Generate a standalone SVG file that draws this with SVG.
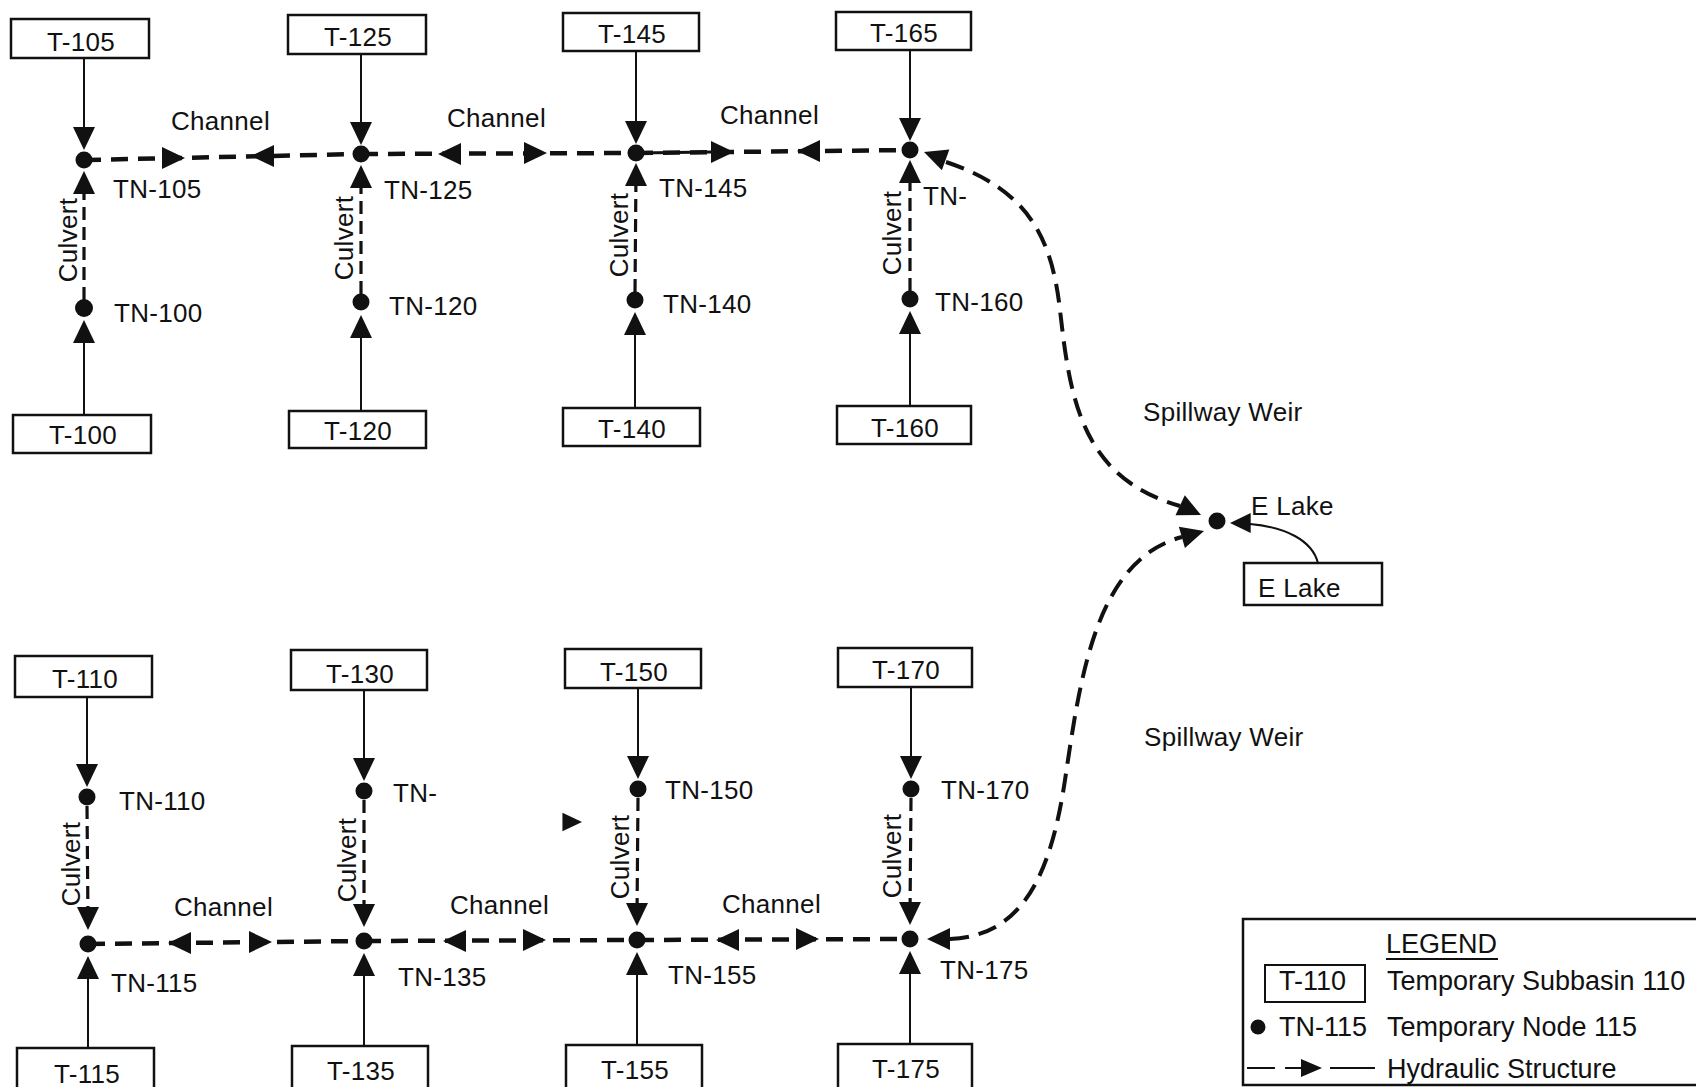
<svg xmlns="http://www.w3.org/2000/svg" xmlns:xlink="http://www.w3.org/1999/xlink" width="1696" height="1087" viewBox="0 0 1696 1087">
<style>
.box{fill:#fff;stroke:#111;stroke-width:2.5}
.t{font-family:"Liberation Sans",Arial,Helvetica,sans-serif;font-size:26px;fill:#111;letter-spacing:0.3px}
.m{text-anchor:middle}
.lg{font-size:27px;letter-spacing:0}
.solid{stroke:#111;stroke-width:2;fill:none}
.dash{stroke:#111;stroke-width:4.5;stroke-dasharray:17 10;fill:none}
.weir{stroke:#111;stroke-width:4;stroke-dasharray:19 10;fill:none}
.cul{stroke:#111;stroke-width:3.2;stroke-dasharray:13 7;fill:none}
.dot{fill:#111}
.ah{fill:#111}
</style>
<defs>
<path id="arr" d="M0,0 L-23,-11 L-23,11 Z"/>
</defs>
<rect width="1696" height="1087" fill="#fff"/>

<g id="connectors">
<line class="solid" x1="84" y1="58" x2="84" y2="140"/>
<use href="#arr" class="ah" transform="translate(84,150) rotate(90)"/>
<line class="cul" x1="84" y1="300" x2="84" y2="180"/>
<use href="#arr" class="ah" transform="translate(84,171) rotate(-90)"/>
<line class="solid" x1="84" y1="415" x2="84" y2="330"/>
<use href="#arr" class="ah" transform="translate(84,320) rotate(-90)"/>
<line class="solid" x1="361" y1="53" x2="361" y2="135"/>
<use href="#arr" class="ah" transform="translate(361,145) rotate(90)"/>
<line class="cul" x1="361" y1="294" x2="361" y2="175"/>
<use href="#arr" class="ah" transform="translate(361,165) rotate(-90)"/>
<line class="solid" x1="361" y1="411" x2="361" y2="325"/>
<use href="#arr" class="ah" transform="translate(361,315) rotate(-90)"/>
<line class="solid" x1="636" y1="51" x2="636" y2="134"/>
<use href="#arr" class="ah" transform="translate(636,144) rotate(90)"/>
<line class="cul" x1="635" y1="292" x2="636" y2="172"/>
<use href="#arr" class="ah" transform="translate(636,163) rotate(-90)"/>
<line class="solid" x1="635" y1="408" x2="635" y2="322"/>
<use href="#arr" class="ah" transform="translate(635,312) rotate(-90)"/>
<line class="solid" x1="910" y1="50" x2="910" y2="131"/>
<use href="#arr" class="ah" transform="translate(910,141) rotate(90)"/>
<line class="cul" x1="910" y1="291" x2="910" y2="170"/>
<use href="#arr" class="ah" transform="translate(910,160) rotate(-90)"/>
<line class="solid" x1="910" y1="406" x2="910" y2="321"/>
<use href="#arr" class="ah" transform="translate(910,311) rotate(-90)"/>
<line class="dash" x1="84" y1="160" x2="361" y2="154"/>
<use href="#arr" class="ah" transform="translate(185,158) rotate(0)"/>
<use href="#arr" class="ah" transform="translate(251,156) rotate(180)"/>
<line class="dash" x1="361" y1="154" x2="636" y2="153"/>
<use href="#arr" class="ah" transform="translate(438,154) rotate(180)"/>
<use href="#arr" class="ah" transform="translate(547,153) rotate(0)"/>
<line class="dash" x1="636" y1="153" x2="910" y2="150"/>
<line class="solid" x1="636" y1="153" x2="712" y2="152" style="stroke-width:3"/>
<use href="#arr" class="ah" transform="translate(734,152) rotate(0)"/>
<use href="#arr" class="ah" transform="translate(797,151) rotate(180)"/>

<line class="solid" x1="87" y1="697" x2="87" y2="777"/>
<use href="#arr" class="ah" transform="translate(87,787) rotate(90)"/>
<line class="cul" x1="87" y1="806" x2="88" y2="920"/>
<use href="#arr" class="ah" transform="translate(88,930) rotate(90)"/>
<line class="solid" x1="88" y1="1048" x2="88" y2="966"/>
<use href="#arr" class="ah" transform="translate(88,956) rotate(-90)"/>
<line class="solid" x1="364" y1="690" x2="364" y2="771"/>
<use href="#arr" class="ah" transform="translate(364,781) rotate(90)"/>
<line class="cul" x1="364" y1="800" x2="364" y2="917"/>
<use href="#arr" class="ah" transform="translate(364,927) rotate(90)"/>
<line class="solid" x1="364" y1="1046" x2="364" y2="963"/>
<use href="#arr" class="ah" transform="translate(364,953) rotate(-90)"/>
<line class="solid" x1="638" y1="688" x2="638" y2="769"/>
<use href="#arr" class="ah" transform="translate(638,779) rotate(90)"/>
<line class="cul" x1="638" y1="798" x2="637" y2="916"/>
<use href="#arr" class="ah" transform="translate(637,926) rotate(90)"/>
<line class="solid" x1="637" y1="1045" x2="637" y2="962"/>
<use href="#arr" class="ah" transform="translate(637,952) rotate(-90)"/>
<line class="solid" x1="911" y1="687" x2="911" y2="769"/>
<use href="#arr" class="ah" transform="translate(911,779) rotate(90)"/>
<line class="cul" x1="911" y1="798" x2="910" y2="915"/>
<use href="#arr" class="ah" transform="translate(910,925) rotate(90)"/>
<line class="solid" x1="910" y1="1044" x2="910" y2="961"/>
<use href="#arr" class="ah" transform="translate(910,951) rotate(-90)"/>
<line class="dash" x1="88" y1="944" x2="364" y2="941"/>
<use href="#arr" class="ah" transform="translate(168,943) rotate(180)"/>
<use href="#arr" class="ah" transform="translate(272,942) rotate(0)"/>
<line class="dash" x1="364" y1="941" x2="637" y2="940"/>
<use href="#arr" class="ah" transform="translate(443,941) rotate(180)"/>
<use href="#arr" class="ah" transform="translate(546,940) rotate(0)"/>
<line class="dash" x1="637" y1="940" x2="910" y2="939"/>
<use href="#arr" class="ah" transform="translate(716,940) rotate(180)"/>
<use href="#arr" class="ah" transform="translate(819,939) rotate(0)"/>
<use href="#arr" class="ah" transform="translate(582,822) scale(0.85)"/>
<path class="weir" d="M946,162 C1030,190 1052,240 1060,310 C1070,400 1082,478 1180,506"/>
<use href="#arr" class="ah" transform="translate(924,152) rotate(200)"/>
<use href="#arr" class="ah" transform="translate(1201,515) rotate(25)"/>
<path class="weir" d="M950,939 C1020,936 1050,880 1065,780 C1080,680 1095,560 1182,537"/>
<use href="#arr" class="ah" transform="translate(927,939) rotate(180)"/>
<use href="#arr" class="ah" transform="translate(1204,531) rotate(-16)"/>
<path class="solid" d="M1318,563 C1312,540 1285,527 1250,524"/>
<use href="#arr" class="ah" transform="translate(1230,523) rotate(180) scale(0.9)"/>
</g>

<g id="T-105"><rect class="box" x="11" y="19" width="138" height="39"/><text class="t m" x="81" y="51">T-105</text></g>
<g id="T-125"><rect class="box" x="288" y="15" width="138" height="39"/><text class="t m" x="358" y="46">T-125</text></g>
<g id="T-145"><rect class="box" x="563" y="13" width="136" height="38"/><text class="t m" x="632" y="43">T-145</text></g>
<g id="T-165"><rect class="box" x="836" y="12" width="135" height="38"/><text class="t m" x="904" y="42">T-165</text></g>
<g id="T-100"><rect class="box" x="13" y="415" width="138" height="38"/><text class="t m" x="83" y="444">T-100</text></g>
<g id="T-120"><rect class="box" x="289" y="411" width="137" height="37"/><text class="t m" x="358" y="440">T-120</text></g>
<g id="T-140"><rect class="box" x="563" y="408" width="137" height="38"/><text class="t m" x="632" y="438">T-140</text></g>
<g id="T-160"><rect class="box" x="837" y="406" width="134" height="38"/><text class="t m" x="905" y="437">T-160</text></g>
<g id="T-110"><rect class="box" x="15" y="656" width="137" height="41"/><text class="t m" x="85" y="688">T-110</text></g>
<g id="T-130"><rect class="box" x="291" y="650" width="136" height="40"/><text class="t m" x="360" y="683">T-130</text></g>
<g id="T-150"><rect class="box" x="565" y="649" width="136" height="39"/><text class="t m" x="634" y="681">T-150</text></g>
<g id="T-170"><rect class="box" x="838" y="648" width="134" height="39"/><text class="t m" x="906" y="679">T-170</text></g>
<g id="T-115"><rect class="box" x="17" y="1048" width="137" height="45"/><text class="t m" x="87" y="1083">T-115</text></g>
<g id="T-135"><rect class="box" x="292" y="1046" width="136" height="45"/><text class="t m" x="361" y="1080">T-135</text></g>
<g id="T-155"><rect class="box" x="566" y="1045" width="136" height="45"/><text class="t m" x="635" y="1079">T-155</text></g>
<g id="T-175"><rect class="box" x="838" y="1044" width="134" height="45"/><text class="t m" x="906" y="1078">T-175</text></g>

<g id="TN-105"><circle class="dot" cx="84" cy="160" r="8.5"/><text class="t" x="113" y="198">TN-105</text></g>
<g id="TN-125"><circle class="dot" cx="361" cy="154" r="8.5"/><text class="t" x="384" y="199">TN-125</text></g>
<g id="TN-145"><circle class="dot" cx="636" cy="153" r="8.5"/><text class="t" x="659" y="197">TN-145</text></g>
<g id="TN-165"><circle class="dot" cx="910" cy="150" r="8.5"/><text class="t" x="923" y="205">TN-</text></g>
<g id="TN-100"><circle class="dot" cx="84" cy="308" r="9"/><text class="t" x="114" y="322">TN-100</text></g>
<g id="TN-120"><circle class="dot" cx="361" cy="302" r="8.5"/><text class="t" x="389" y="315">TN-120</text></g>
<g id="TN-140"><circle class="dot" cx="635" cy="300" r="8.5"/><text class="t" x="663" y="313">TN-140</text></g>
<g id="TN-160"><circle class="dot" cx="910" cy="299" r="8.5"/><text class="t" x="935" y="311">TN-160</text></g>
<g id="TN-110"><circle class="dot" cx="87" cy="797" r="8.5"/><text class="t" x="119" y="810">TN-110</text></g>
<g id="TN-130"><circle class="dot" cx="364" cy="791" r="8.5"/><text class="t" x="393" y="802">TN-</text></g>
<g id="TN-150"><circle class="dot" cx="638" cy="789" r="8.5"/><text class="t" x="665" y="799">TN-150</text></g>
<g id="TN-170"><circle class="dot" cx="911" cy="789" r="8.5"/><text class="t" x="941" y="799">TN-170</text></g>
<g id="TN-115"><circle class="dot" cx="88" cy="944" r="8.5"/><text class="t" x="111" y="992">TN-115</text></g>
<g id="TN-135"><circle class="dot" cx="364" cy="941" r="8.5"/><text class="t" x="398" y="986">TN-135</text></g>
<g id="TN-155"><circle class="dot" cx="637" cy="940" r="8.5"/><text class="t" x="668" y="984">TN-155</text></g>
<g id="TN-175"><circle class="dot" cx="910" cy="939" r="8.5"/><text class="t" x="940" y="979">TN-175</text></g>
<g id="E-Lake-node"><circle class="dot" cx="1217" cy="521" r="8.5"/><text class="t" x="1251" y="515">E Lake</text></g>
<g id="E-Lake"><rect class="box" x="1244" y="563" width="138" height="42"/><text class="t" x="1258" y="597">E Lake</text></g>

<g id="structure-labels">
<text class="t" x="171" y="130">Channel</text>
<text class="t" x="447" y="127">Channel</text>
<text class="t" x="720" y="124">Channel</text>
<text class="t" x="174" y="916">Channel</text>
<text class="t" x="450" y="914">Channel</text>
<text class="t" x="722" y="913">Channel</text>
<text class="t m" transform="translate(77,240) rotate(-90)">Culvert</text>
<text class="t m" transform="translate(353,238) rotate(-90)">Culvert</text>
<text class="t m" transform="translate(628,235) rotate(-90)">Culvert</text>
<text class="t m" transform="translate(901,233) rotate(-90)">Culvert</text>
<text class="t m" transform="translate(80,864) rotate(-90)">Culvert</text>
<text class="t m" transform="translate(356,860) rotate(-90)">Culvert</text>
<text class="t m" transform="translate(629,857) rotate(-90)">Culvert</text>
<text class="t m" transform="translate(901,856) rotate(-90)">Culvert</text>
<text class="t" x="1143" y="421">Spillway Weir</text>
<text class="t" x="1144" y="746">Spillway Weir</text>
</g>

<g id="legend">
<rect x="1243" y="919" width="470" height="166" fill="none" stroke="#111" stroke-width="2.5"/>
<text class="t lg" x="1386" y="953">LEGEND</text>
<line x1="1386" y1="959" x2="1498" y2="959" stroke="#111" stroke-width="2"/>
<rect class="box" x="1265" y="965" width="100" height="37" style="stroke-width:2"/>
<text class="t lg" x="1279" y="990">T-110</text>
<text class="t lg" x="1387" y="990">Temporary Subbasin 110</text>
<circle class="dot" cx="1258" cy="1027" r="7.5"/>
<text class="t lg" x="1279" y="1036">TN-115</text>
<text class="t lg" x="1387" y="1036">Temporary Node 115</text>
<line x1="1247" y1="1068" x2="1275" y2="1068" stroke="#111" stroke-width="2"/>
<line x1="1285" y1="1068" x2="1304" y2="1068" stroke="#111" stroke-width="2"/>
<path class="ah" d="M1322,1068 L1301,1059 L1301,1077 Z"/>
<line x1="1330" y1="1068" x2="1375" y2="1068" stroke="#111" stroke-width="2"/>
<text class="t lg" x="1387" y="1078">Hydraulic Structure</text>
</g>
</svg>
